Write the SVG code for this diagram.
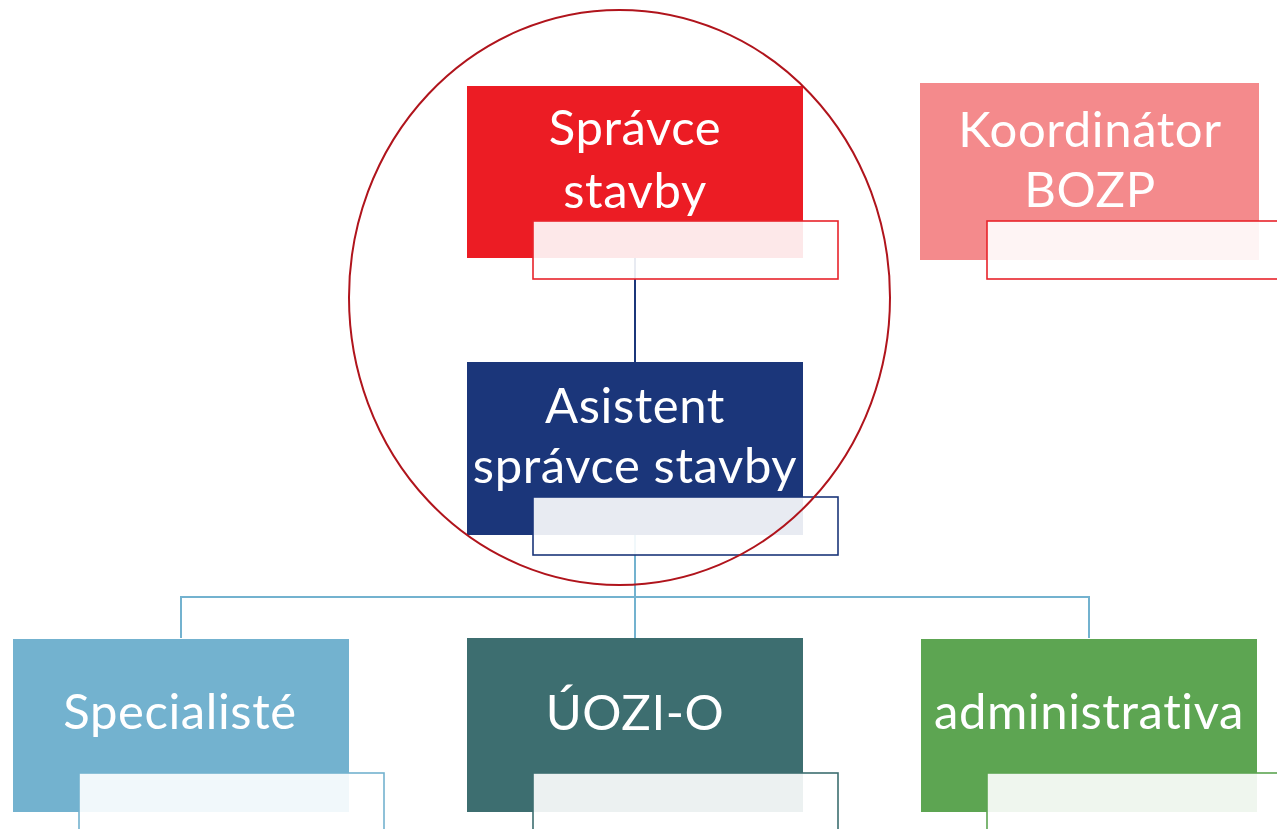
<svg xmlns="http://www.w3.org/2000/svg" width="1277" height="829" viewBox="0 0 1277 829">
  <style>
    .lbl { font-family: Lato, "Open Sans", "Liberation Sans", sans-serif; font-size: 49px; letter-spacing: 0.6px; fill: #ffffff; text-anchor: middle; }
    .tag { fill: #ffffff; fill-opacity: 0.9; stroke-width: 1.6; }
    .conn { fill: none; stroke-width: 2; }
  </style>
  <rect width="1277" height="829" fill="#ffffff"/>

  <g id="connectors">
    <line class="conn" x1="635" y1="258" x2="635" y2="362" stroke="#1B367A"/>
    <path class="conn" d="M635 535 V597 M181 638 V597 H1089 V638 M635 597 V638" stroke="#73B2CF"/>
  </g>

  <g id="spravce">
    <rect x="467" y="86" width="336" height="172" fill="#EC1C24"/>
    <text class="lbl" x="635" y="145">Správce</text>
    <text class="lbl" x="635" y="208">stavby</text>
    <rect class="tag" x="533" y="221" width="305" height="58" stroke="#E8242B"/>
  </g>

  <g id="koordinator">
    <rect x="920" y="83" width="339" height="177" fill="#F48A8C"/>
    <text class="lbl" x="1090" y="147">Koordinátor</text>
    <text class="lbl" x="1090" y="207">BOZP</text>
    <rect class="tag" x="987" y="221" width="300" height="58" stroke="#E8242B"/>
  </g>

  <g id="asistent">
    <rect x="467" y="362" width="336" height="173" fill="#1B367A"/>
    <text class="lbl" x="635" y="423">Asistent</text>
    <text class="lbl" x="635" y="483">správce stavby</text>
    <rect class="tag" x="533" y="497" width="305" height="58" stroke="#1B367A"/>
  </g>

  <g id="specialiste">
    <rect x="13" y="639" width="336" height="173" fill="#73B2CF"/>
    <text class="lbl" x="180" y="729">Specialisté</text>
    <rect class="tag" x="79" y="773" width="305" height="70" stroke="#73B2CF"/>
  </g>

  <g id="uozi">
    <rect x="467" y="638" width="336" height="174" fill="#3D6E70"/>
    <text class="lbl" x="635" y="730">ÚOZI-O</text>
    <rect class="tag" x="533" y="773" width="305" height="70" stroke="#3D6E70"/>
  </g>

  <g id="administrativa">
    <rect x="921" y="639" width="336" height="173" fill="#5DA552"/>
    <text class="lbl" x="1089" y="729">administrativa</text>
    <rect class="tag" x="987" y="773" width="300" height="70" stroke="#5DA552"/>
  </g>

  <g id="highlight">
    <ellipse cx="619.5" cy="297.5" rx="270.5" ry="287.5" fill="none" stroke="#B0141C" stroke-width="2"/>
  </g>
</svg>
